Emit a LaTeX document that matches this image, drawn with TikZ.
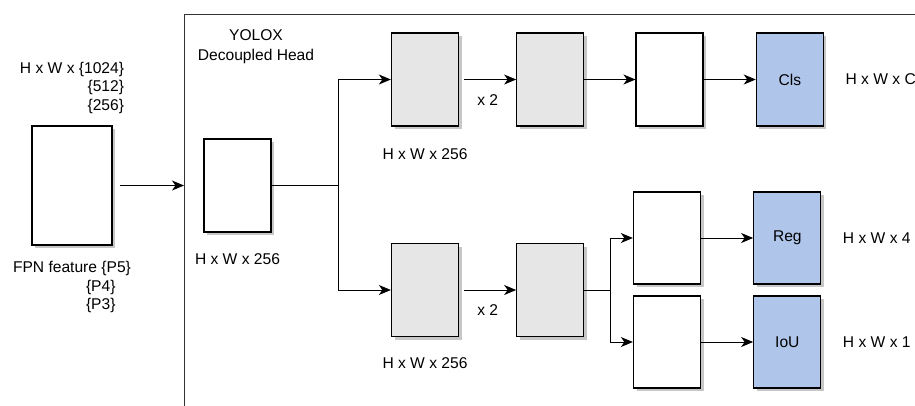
\documentclass[tikz,border=0pt]{standalone}
\usepackage{fontspec}
\setmainfont{Liberation Sans}
\usetikzlibrary{positioning, arrows.meta, shadows}
\definecolor{outblue}{HTML}{AFC5EA}
\definecolor{convgray}{HTML}{E6E6E6}

\begin{document}
\begin{tikzpicture}[
        x=1pt, y=-1pt,
        >={Stealth[length=12pt,width=10pt,inset=3.5pt]},
        font=\fontsize{15.6}{18.7}\selectfont,
        block/.style={draw, line width=1.3pt, fill=white, inner sep=0pt,
            minimum width=67pt, minimum height=93pt,
            drop shadow={shadow xshift=3pt, shadow yshift=-3pt, fill=black!22, opacity=1}},
        convbox/.style={block, fill=convgray},
        headout/.style={block, fill=outblue},
        link/.style={line width=1pt},
        frame/.style={draw=black!80, line width=1pt}
    ]
    \clip (0,0) rectangle (915,405);

    % FPN input
    \node[block, minimum width=80pt, minimum height=119pt] (fpn) at (72,185.5) {};
    \node[above=8pt of fpn, align=right] (fpndims) {H x W x \{1024\}\\ \{512\}\\ \{256\}};
    \node[below=12pt of fpn, align=left] (fpnname) {FPN feature \{P5\}\\ \hspace*{73pt}\{P4\}\\ \hspace*{73pt}\{P3\}};

    % Decoupled head frame
    \node[frame, anchor=north west, minimum width=800pt, minimum height=450pt] (head) at (184,14) {};
    \node[align=center] (title) at (256,47) {YOLOX\\[1pt]Decoupled Head};

    % Stem
    \node[block] (stem) at (237.5,185.5) {};
    \node[below=17pt of stem] (stemdims) {H x W x 256};

    % Cls branch
    \node[convbox] (cls1) at (425,79.5) {};
    \node[convbox, right=57pt of cls1] (cls2) {};
    \node[block, right=51pt of cls2] (cls3) {};
    \node[headout, right=52pt of cls3] (cls) {Cls};
    \node[below=18pt of cls1] (clsdims) {H x W x 256};
    \node[right=18pt of cls] (clsout) {H x W x C};

    % Reg / IoU branch
    \node[convbox] (reg1) at (425,290) {};
    \node[convbox, right=57pt of reg1] (reg2) {};
    \node[block, minimum height=92pt] (reg3) at (667,238) {};
    \node[headout, minimum height=92pt, right=52pt of reg3] (reg) {Reg};
    \node[block, minimum height=92pt] (iou3) at (667,342) {};
    \node[headout, minimum height=92pt, right=52pt of iou3] (iou) {IoU};
    \node[below=17pt of reg1] (regdims) {H x W x 256};
    \node[right=18pt of reg] (regout) {H x W x 4};
    \node[right=18pt of iou] (iouout) {H x W x 1};

    % Arrows
    \draw[link, ->, shorten <=7pt] (fpn.east) -- (fpn.east -| head.west);
    \draw[link] (stem.east) -- ++(67,0) coordinate (split);
    \draw[link, ->] (split) |- (cls1.west);
    \draw[link, ->] (split) |- (reg1.west);
    \draw[link, ->, shorten <=5pt] (cls1) -- node[below=11pt] {x 2} (cls2);
    \draw[link, ->] (cls2) -- (cls3);
    \draw[link, ->] (cls3) -- (cls);
    \draw[link, ->, shorten <=5pt] (reg1) -- node[below=11pt] {x 2} (reg2);
    \draw[link] (reg2.east) -- ++(26,0) coordinate (split2);
    \draw[link, ->] (split2) |- (reg3.west);
    \draw[link, ->] (split2) |- (iou3.west);
    \draw[link, ->] (reg3) -- (reg);
    \draw[link, ->] (iou3) -- (iou);

\end{tikzpicture}
\end{document}
